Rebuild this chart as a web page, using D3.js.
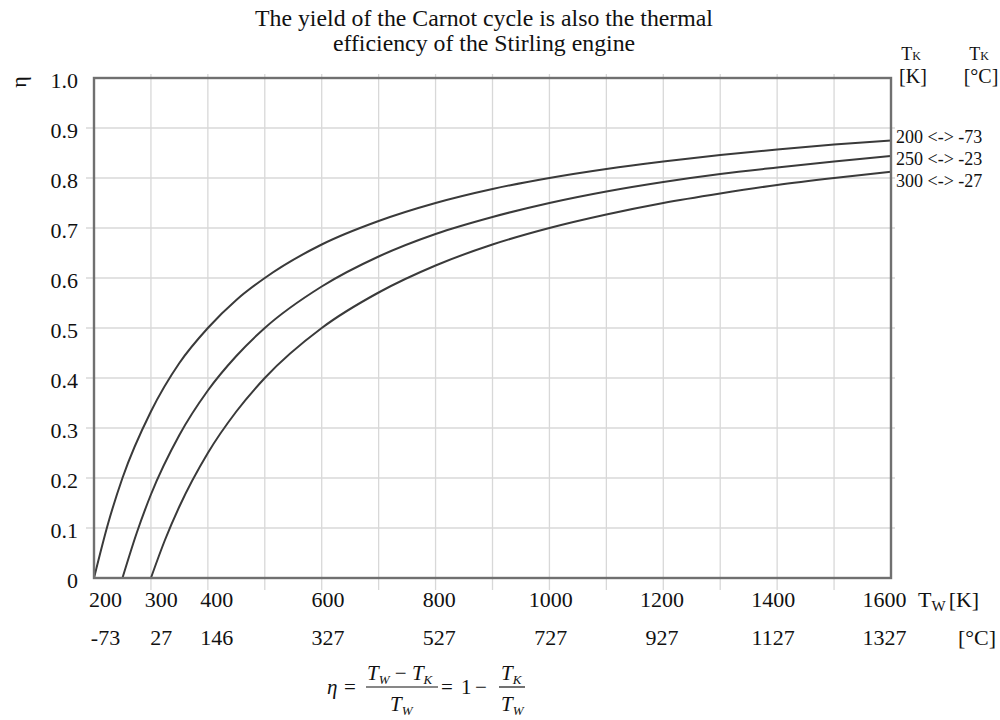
<!DOCTYPE html>
<html>
<head>
<meta charset="utf-8">
<script src="https://cdn.jsdelivr.net/npm/d3@7"></script>
<style>
  html, body { margin: 0; padding: 0; background: #fff; }
  svg { display: block; font-family: "Liberation Serif", "DejaVu Serif", serif; }
</style>
</head>
<body>
<svg id="chart" width="1000" height="720"></svg>
<script>
// ---------- data ----------
const titleLines = ["The yield of the Carnot cycle is also the thermal", "efficiency of the Stirling engine"];
const kelvinTicks = [200, 300, 400, 600, 800, 1000, 1200, 1400, 1600];
const celsiusTicks = ["-73", "27", "146", "327", "527", "727", "927", "1127", "1327"];
const etaTicks = [0, 0.1, 0.2, 0.3, 0.4, 0.5, 0.6, 0.7, 0.8, 0.9, 1.0];
const gridKelvin = [300, 400, 500, 600, 700, 800, 900, 1000, 1100, 1200, 1300, 1400, 1500];
const gridEta = [0.1, 0.2, 0.3, 0.4, 0.5, 0.6, 0.7, 0.8, 0.9];

const series200Tw  = [200, 225, 250, 300, 350, 400, 450, 500, 600, 700, 800, 900, 1000, 1100, 1200, 1300, 1400, 1500, 1600];
const series200Eta = [0, 0.11, 0.20, 0.333, 0.43, 0.50, 0.556, 0.60, 0.667, 0.714, 0.75, 0.778, 0.80, 0.818, 0.833, 0.846, 0.857, 0.867, 0.875];
const series250Tw  = [250, 275, 300, 350, 400, 450, 500, 600, 700, 800, 900, 1000, 1100, 1200, 1300, 1400, 1500, 1600];
const series250Eta = [0, 0.09, 0.167, 0.286, 0.375, 0.444, 0.50, 0.583, 0.643, 0.688, 0.722, 0.75, 0.773, 0.792, 0.808, 0.821, 0.833, 0.844];
const series300Tw  = [300, 325, 350, 400, 450, 500, 600, 700, 800, 900, 1000, 1100, 1200, 1300, 1400, 1500, 1600];
const series300Eta = [0, 0.077, 0.143, 0.25, 0.333, 0.40, 0.50, 0.571, 0.625, 0.667, 0.70, 0.727, 0.75, 0.769, 0.786, 0.80, 0.8125];
const seriesLabels = ["200 <-> -73", "250 <-> -23", "300 <-> -27"];

// ---------- layout ----------
const svg = d3.select("#chart");
const pLeft = 94, pRight = 891, pTop = 78, pBottom = 578;
const x = d3.scaleLinear().domain([200, 1600]).range([pLeft, pRight]);
const xLab = d3.scaleLinear().domain([200, 1600]).range([105, 884]);
const y = d3.scaleLinear().domain([0, 1]).range([pBottom, pTop]);

// grid
const grid = svg.append("g").attr("stroke", "#d8d8d8").attr("stroke-width", 1.3);
grid.selectAll("line.v").data(gridKelvin).join("line").attr("class", "v")
  .attr("x1", d => x(d)).attr("x2", d => x(d))
  .attr("y1", pTop - 4).attr("y2", pBottom + 12);
grid.selectAll("line.h").data(gridEta).join("line").attr("class", "h")
  .attr("x1", pLeft - 8).attr("x2", pRight + 4)
  .attr("y1", d => y(d)).attr("y2", d => y(d));

// curves
const series = [
  { tw: series200Tw, eta: series200Eta },
  { tw: series250Tw, eta: series250Eta },
  { tw: series300Tw, eta: series300Eta }
];
const line = d3.line().x(d => x(d[0])).y(d => y(d[1])).curve(d3.curveMonotoneX);
svg.append("g").selectAll("path").data(series).join("path")
  .attr("d", s => line(s.tw.map((t, i) => [t, s.eta[i]])))
  .attr("fill", "none").attr("stroke", "#3a3a3a").attr("stroke-width", 2);

// frame
svg.append("rect").attr("x", pLeft).attr("y", pTop)
  .attr("width", pRight - pLeft).attr("height", pBottom - pTop)
  .attr("fill", "none").attr("stroke", "#707070").attr("stroke-width", 2.4);

// y axis
const yAxis = d3.axisLeft(y).tickValues(etaTicks).tickSize(0).tickPadding(0)
  .tickFormat(d => d === 0 ? "0" : d3.format(".1f")(d));
const gy = svg.append("g").attr("transform", `translate(${pLeft - 16},2)`).call(yAxis);
gy.select(".domain").remove();
gy.selectAll("text").attr("font-size", 22).attr("fill", "#111")
  .attr("font-family", "Liberation Serif, serif");

svg.append("text").attr("transform", "translate(26,82) rotate(-90)")
  .attr("text-anchor", "middle").attr("font-size", 22).attr("fill", "#111").text("η");

// x axis (Kelvin)
const xAxisK = d3.axisBottom(xLab).tickValues(kelvinTicks).tickSize(0).tickPadding(0)
  .tickFormat(d => String(d));
const gxK = svg.append("g").attr("transform", "translate(0,607)").call(xAxisK);
gxK.select(".domain").remove();
gxK.selectAll("text").attr("dy", 0).attr("font-size", 22).attr("fill", "#111")
  .attr("font-family", "Liberation Serif, serif");

// x axis (Celsius)
const xAxisC = d3.axisBottom(xLab).tickValues(kelvinTicks).tickSize(0).tickPadding(0)
  .tickFormat((d, i) => celsiusTicks[i]);
const gxC = svg.append("g").attr("transform", "translate(0,645)").call(xAxisC);
gxC.select(".domain").remove();
gxC.selectAll("text").attr("dy", 0).attr("font-size", 22).attr("fill", "#111")
  .attr("font-family", "Liberation Serif, serif");

// axis unit labels
const twl = svg.append("text").attr("x", 918).attr("y", 607).attr("font-size", 22).attr("fill", "#111");
twl.append("tspan").text("T");
twl.append("tspan").attr("font-size", 15).attr("dy", 4).text("W");
twl.append("tspan").attr("dy", -4).attr("dx", 3).text("[K]");
svg.append("text").attr("x", 996).attr("y", 645).attr("text-anchor", "end")
  .attr("font-size", 22).attr("fill", "#111").text("[°C]");

// title
svg.append("g").selectAll("text").data(titleLines).join("text")
  .attr("x", 484).attr("y", (d, i) => 26 + i * 25)
  .attr("text-anchor", "middle").attr("font-size", 23.8).attr("fill", "#111").text(d => d);

// right header
[[911, "[K]"], [979, "[°C]"]].forEach(([cx, unit]) => {
  const t = svg.append("text").attr("x", cx).attr("y", 60).attr("text-anchor", "middle")
    .attr("font-size", 18).attr("fill", "#111");
  t.append("tspan").text("T");
  t.append("tspan").attr("font-size", 12).text("K");
  svg.append("text").attr("x", cx + 2).attr("y", 83).attr("text-anchor", "middle")
    .attr("font-size", 20).attr("fill", "#111").text(unit);
});

// series labels
svg.append("g").selectAll("text").data(seriesLabels).join("text")
  .attr("x", 896).attr("y", (d, i) => 143 + i * 22)
  .attr("font-size", 18).attr("fill", "#111").text(d => d);

// formula
const f = svg.append("g").attr("font-size", 21).attr("fill", "#111").attr("font-family", "Liberation Serif, serif");
function sub(g, xPos, yPos, main, s) {
  const t = g.append("text").attr("x", xPos).attr("y", yPos).attr("font-style", "italic");
  t.append("tspan").text(main);
  t.append("tspan").attr("font-size", 13).attr("dy", 4).text(s);
  return t;
}
f.append("text").attr("x", 327).attr("y", 694).attr("font-style", "italic").text("η");
f.append("text").attr("x", 344).attr("y", 694).text("=");
const n1 = f.append("text").attr("x", 367).attr("y", 680).attr("font-style", "italic");
n1.append("tspan").text("T");
n1.append("tspan").attr("font-size", 13).attr("dy", 4).text("W");
n1.append("tspan").attr("dy", -4).attr("font-style", "normal").text(" − ");
n1.append("tspan").text("T");
n1.append("tspan").attr("font-size", 13).attr("dy", 4).text("K");
f.append("line").attr("x1", 366).attr("x2", 438).attr("y1", 687).attr("y2", 687)
  .attr("stroke", "#111").attr("stroke-width", 1.2);
sub(f, 390, 711, "T", "W");
f.append("text").attr("x", 441).attr("y", 694).text("=");
f.append("text").attr("x", 461).attr("y", 694).text("1");
f.append("text").attr("x", 475).attr("y", 694).text("−");
sub(f, 501, 680, "T", "K");
f.append("line").attr("x1", 499).attr("x2", 525).attr("y1", 687).attr("y2", 687)
  .attr("stroke", "#111").attr("stroke-width", 1.2);
sub(f, 501, 711, "T", "W");
</script>
</body>
</html>
